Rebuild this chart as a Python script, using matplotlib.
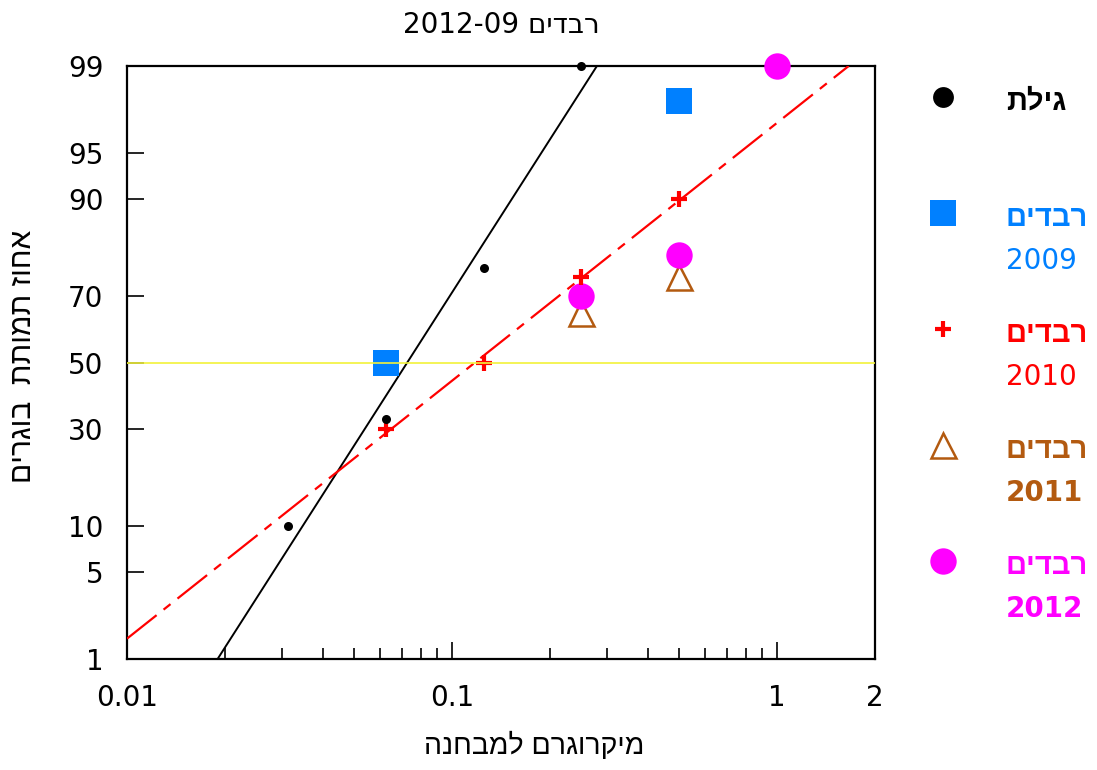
import numpy as np
import matplotlib
matplotlib.use("Agg")
import matplotlib.pyplot as plt
from matplotlib.ticker import FixedLocator, NullFormatter, NullLocator
from statistics import NormalDist

plt.rcParams['font.family'] = ['DejaVu Sans', 'Liberation Sans']
HEB_FONT = ['Liberation Sans', 'DejaVu Sans']

# mortality (%) per dose (microgram per tube)
gilat_dose = [0.03125, 0.0625, 0.125, 0.25]
gilat_pct = [10, 33, 77, 99]

rvadim2009_dose = [0.0625, 0.5]
rvadim2009_pct = [50, 98]

rvadim2010_dose = [0.0625, 0.125, 0.25, 0.5]
rvadim2010_pct = [30, 50, 75, 90]

rvadim2011_dose = [0.25, 0.5]
rvadim2011_pct = [65, 75]

rvadim2012_dose = [0.25, 0.5, 1.0]
rvadim2012_pct = [70, 80, 99]

y_ticks = [1, 5, 10, 30, 50, 70, 90, 95, 99]
x_ticks = [0.01, 0.1, 1, 2]
x_tick_labels = ["0.01", "0.1", "1", "2"]

title_he = "רבדים"
title_date = "2012-09"
xlabel_he = "מיקרוגרם למבחנה"
ylabel_he = "אחוז תמותת  בוגרים"

legend_names = ["גילת", "רבדים", "רבדים", "רבדים", "רבדים"]
legend_years = ["", "2009", "2010", "2011", "2012"]
legend_year_bold = [False, False, False, True, True]

BLACK = "black"
BLUE = "#0080ff"
RED = "#ff0000"
BROWN = "#b35a10"
MAGENTA = "#ff00ff"


def vis(s):
    # matplotlib has no bidi support, so Hebrew is laid out in visual order
    return s[::-1]


nd = NormalDist()
_ppf = np.vectorize(lambda p: nd.inv_cdf(p), otypes=[float])
_cdf = np.vectorize(lambda z: nd.cdf(z), otypes=[float])


def prob_fwd(p):
    p = np.clip(np.asarray(p, dtype=float) / 100.0, 1e-9, 1 - 1e-9)
    return _ppf(p)


def prob_inv(z):
    return _cdf(np.asarray(z, dtype=float)) * 100.0


def probit_fit(dose, pct):
    a, b = np.polyfit(np.log10(dose), prob_fwd(pct), 1)
    return a, b


def dose_at(a, b, pct):
    return 10 ** ((prob_fwd(pct) - b) / a)


fig = plt.figure(figsize=(10.97, 7.70), dpi=100)
ax = fig.add_axes([127 / 1097, 1 - 659 / 770, (875 - 127) / 1097, (659 - 66) / 770])

ax.set_xscale("log")
ax.set_yscale("function", functions=(prob_fwd, prob_inv))
ax.set_xlim(0.01, 2)
ax.set_ylim(1, 99)

# 50% reference line
ax.axhline(50, color="#f2f23a", lw=1.2, zorder=10)

# probit regression lines
a_g, b_g = probit_fit(gilat_dose, gilat_pct)
xg = np.array([dose_at(a_g, b_g, 1), dose_at(a_g, b_g, 99)])
ax.plot(xg, prob_inv(a_g * np.log10(xg) + b_g), color=BLACK, lw=1.4, zorder=3)

a_r, b_r = probit_fit(rvadim2010_dose, rvadim2010_pct)
xr = np.array([0.01, dose_at(a_r, b_r, 99)])
ax.plot(xr, prob_inv(a_r * np.log10(xr) + b_r), color=RED, lw=1.6,
        dashes=(17, 4, 4, 4), zorder=3)

# observations
ax.plot(rvadim2009_dose, rvadim2009_pct, "s", color=BLUE, ms=19, mew=0, zorder=4)
ax.plot(rvadim2011_dose, rvadim2011_pct, "^", mfc="none", mec=BROWN, ms=18, mew=1.8, zorder=4)
ax.plot(rvadim2012_dose, rvadim2012_pct, "o", color=MAGENTA, ms=19, mew=0, zorder=5,
        clip_on=False)
ax.plot(rvadim2010_dose, rvadim2010_pct, "+", color=RED, ms=11, mew=3, zorder=6)
ax.plot(gilat_dose, gilat_pct, "o", color=BLACK, ms=6.5, mew=0, zorder=6, clip_on=False)

# axes styling
ax.yaxis.set_major_locator(FixedLocator(y_ticks))
ax.yaxis.set_minor_locator(NullLocator())
ax.set_yticklabels([str(t) for t in y_ticks])
ax.set_xticks(x_ticks)
ax.set_xticklabels(x_tick_labels)
ax.xaxis.set_minor_locator(FixedLocator(
    [m * 10 ** e for e in (-2, -1) for m in range(2, 10)]))
ax.xaxis.set_minor_formatter(NullFormatter())
ax.tick_params(axis="both", which="major", direction="in", length=12, width=1.2,
               labelsize=20, colors="black")
ax.tick_params(axis="x", which="major", pad=18)
ax.tick_params(axis="y", which="major", pad=17)
ax.tick_params(axis="x", which="minor", direction="in", length=8, width=1.2)
for sp in ax.spines.values():
    sp.set_linewidth(1.6)

ax.set_title(title_date + " " + vis(title_he), fontsize=20, pad=24)
ax.set_xlabel(vis(xlabel_he), fontsize=20.5, family=HEB_FONT)
ax.set_ylabel(vis(ylabel_he), fontsize=21.5, family=HEB_FONT)
ax.xaxis.set_label_coords(0.545, -0.122)
ax.yaxis.set_label_coords(-0.12, 0.51)

# legend panel on the right
lax = fig.add_axes([0, 0, 1, 1])
lax.set_xlim(0, 1097)
lax.set_ylim(770, 0)
lax.axis("off")

legend_colors = [BLACK, BLUE, RED, BROWN, MAGENTA]
legend_markers = [
    dict(marker="o", color=BLACK, ms=15, mew=0),
    dict(marker="s", color=BLUE, ms=19, mew=0),
    dict(marker="+", color=RED, ms=11, mew=3),
    dict(marker="^", mfc="none", mec=BROWN, ms=18, mew=1.8),
    dict(marker="o", color=MAGENTA, ms=19, mew=0),
]
for i, (name, year) in enumerate(zip(legend_names, legend_years)):
    y0 = 97 + 116 * i
    lax.plot([943], [y0], linestyle="none", **legend_markers[i])
    lax.text(1006, y0 + 5, vis(name), color=legend_colors[i], fontsize=21,
             fontweight="bold", family=HEB_FONT, ha="left", va="center")
    if year:
        lax.text(1006, y0 + 48, year, color=legend_colors[i], fontsize=20,
                 fontweight="bold" if legend_year_bold[i] else "normal",
                 ha="left", va="center")

fig.savefig("out.png", dpi=100)
